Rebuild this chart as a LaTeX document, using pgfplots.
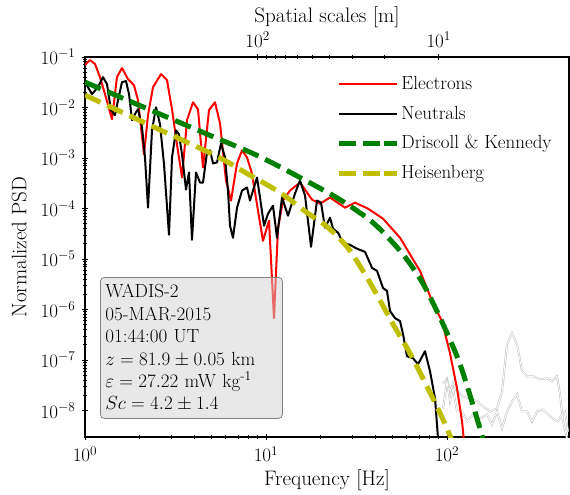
\RequirePackage{fix-cm}
\documentclass[border=0pt]{standalone}
\usepackage{pgfplots}
\pgfplotsset{compat=1.18}
\definecolor{dkgreen}{rgb}{0,0.5,0}
\definecolor{heisy}{rgb}{0.75,0.75,0}
\begin{document}
\fontsize{19}{22}\selectfont
\begin{tikzpicture}[font=\fontsize{19}{22}\selectfont]
\begin{axis}[
  at={(0,0)}, anchor=south west,
  scale only axis, width=484pt, height=380pt,
  xmode=log, ymode=log,
  xmin=1, xmax=472, ymin=3e-9, ymax=1e-1,
  xtick={1,10,100},
  ytick={1e-8,1e-7,1e-6,1e-5,1e-4,1e-3,1e-2,1e-1},
  xtick pos=lower, ytick pos=left,
  tick align=center,
  tick label style={font=\fontsize{19}{22}\selectfont},
  major tick length=6pt, minor tick length=3.5pt,
  every tick/.style={black, line width=0.8pt},
  axis line style={line width=1.1pt},
  xlabel={Frequency [Hz]},
  ylabel={Normalized PSD},
  xlabel style={font=\fontsize{21}{25}\selectfont, at={(axis description cs:0.5,-0.113)}, anchor=center},
  ylabel style={font=\fontsize{21}{25}\selectfont, at={(axis description cs:-0.136,0.5)}, anchor=center},
  legend cell align=left,
  legend style={draw=none, fill=none, at={(0.975,0.96)}, anchor=north east,
    font=\fontsize{19}{22}\selectfont, row sep=9.5pt},
  legend image code/.code={\draw[#1] (0pt,0pt) -- (45pt,0pt);
    \path (45pt,0pt) -- (58pt,0pt);},
]
% spectra above 100 Hz, noise floor
\addplot[forget plot, gray!45, line width=0.6pt, double=white, double distance=0.8pt] coordinates {
(95.05,3.46e-8) (100,4.15e-8) (103.9,2.40e-8) (107.9,3.46e-8) (113.6,2.40e-8)
(118.0,2.09e-8) (122.6,1.91e-8) (134.0,1.74e-8) (146.5,1.52e-8) (158.1,1.21e-8)
(172.8,9.60e-9) (188.9,1.10e-8) (201.3,2.40e-8) (214.6,2.06e-7) (228.7,3.41e-7)
(243.7,2.06e-7) (259.7,5.99e-8) (276.7,4.76e-8) (298.6,4.76e-8) (326.5,4.15e-8)
(356.9,4.35e-8) (380.3,3.79e-8) (405.2,4.76e-8) (421.0,2.09e-8) (437.4,6.07e-9)
(460.2,2.79e-9)
};
\addplot[forget plot, gray!45, line width=0.6pt, double=white, double distance=0.8pt] coordinates {
(95.05,1.10e-8) (100,3.79e-8) (103.9,1.52e-8) (107.9,2.75e-8) (113.6,9.60e-9)
(121.1,9.60e-9) (129.0,6.07e-9) (139.2,8.36e-9) (152.2,6.97e-9) (166.3,8.36e-9)
(177.3,5.30e-9) (188.9,9.60e-9) (201.3,4.41e-9) (214.6,9.60e-9) (228.7,1.52e-8)
(243.7,2.09e-8) (259.7,9.60e-9) (276.7,9.60e-9) (294.8,6.07e-9) (314.3,9.60e-9)
(339.2,1.05e-8) (361.4,8.36e-9) (385.1,6.97e-9) (410.5,6.07e-9) (431.9,8.36e-9)
(448.7,9.60e-9) (466.2,3.84e-9)
};
% electrons
\addplot[red, line width=2pt, line join=round] coordinates {
(1.000,6.93e-2) (1.066,8.71e-2) (1.136,7.26e-2) (1.210,4.00e-2) (1.290,1.84e-2)
(1.410,5.85e-3) (1.502,4.00e-2) (1.601,6.04e-2) (1.728,3.65e-2) (1.865,2.77e-2)
(1.963,1.40e-2) (2.118,1.18e-3) (2.229,7.03e-3) (2.375,2.53e-2) (2.630,4.59e-2)
(2.838,3.49e-2) (3.025,9.25e-3) (3.222,1.86e-3) (3.436,4.11e-4) (3.661,5.60e-3)
(3.952,1.27e-2) (4.210,9.25e-3) (4.487,6.50e-4) (4.842,8.83e-3) (5.224,1.27e-2)
(5.570,4.88e-3) (6.012,3.59e-4) (6.407,1.44e-4) (6.917,7.81e-4) (7.371,1.42e-3)
(7.853,1.03e-3) (8.369,4.94e-4) (9.032,9.08e-5) (9.625,2.30e-5) (10.39,5.74e-5)
(11.07,6.78e-7) (11.65,4.17e-5) (12.42,1.44e-4) (13.57,2.27e-4) (15.41,3.27e-4)
(17.96,1.50e-4) (19.88,1.25e-4) (22.58,1.65e-4) (27.33,1.04e-4) (31.02,1.31e-4)
(36.61,9.95e-5) (44.31,6.30e-5) (55.01,2.64e-5) (70.93,5.82e-6) (82.63,1.48e-6)
(93.84,5.91e-7) (103.9,1.36e-7) (113.6,2.75e-8) (121.1,6.07e-9) (124.2,2.43e-9)
};
\addlegendentry{Electrons}
% neutrals
\addplot[black, line width=2pt, line join=round] coordinates {
(1.000,3.18e-2) (1.093,1.84e-2) (1.180,2.53e-2) (1.257,4.00e-2) (1.323,2.90e-2)
(1.392,8.83e-3) (1.465,7.03e-3) (1.522,1.40e-2) (1.601,3.18e-2) (1.685,3.33e-2)
(1.751,1.84e-2) (1.818,5.60e-3) (1.913,8.07e-3) (1.963,9.25e-3) (2.065,4.06e-3)
(2.145,1.03e-3) (2.229,1.04e-4) (2.345,3.54e-3) (2.468,1.01e-2) (2.597,4.66e-3)
(2.733,7.46e-4) (2.911,3.03e-5) (3.025,1.03e-3) (3.184,3.54e-3) (3.306,2.94e-3)
(3.436,1.18e-3) (3.614,2.38e-4) (3.755,5.18e-4) (3.901,2.41e-5) (4.104,5.18e-4)
(4.319,3.27e-4) (4.487,3.27e-4) (4.721,1.29e-3) (4.905,1.42e-3) (5.096,7.81e-4)
(5.362,8.18e-4) (5.642,1.95e-3) (5.936,1.03e-3) (6.166,2.27e-4) (6.325,4.57e-5)
(6.571,2.64e-5) (6.917,1.04e-4) (7.371,2.27e-4) (7.853,2.61e-4) (8.157,1.44e-4)
(8.477,2.27e-4) (8.919,4.11e-4) (9.267,1.65e-4) (9.750,4.57e-5) (10.26,7.92e-5)
(10.93,1.14e-4) (11.50,2.64e-5) (12.26,1.65e-4) (13.23,7.22e-5) (14.46,1.98e-4)
(15.41,3.59e-4) (16.43,1.80e-4) (17.73,1.75e-5) (19.13,1.44e-4) (20.13,1.31e-4)
(21.18,4.17e-5) (22.58,6.59e-5) (23.46,3.98e-5) (24.99,3.32e-5) (26.63,2.10e-5)
(29.12,1.91e-5) (31.84,1.60e-5) (35.24,1.39e-5) (38.51,6.68e-6) (41.06,5.82e-6)
(44.31,2.67e-6) (46.62,2.33e-6) (48.43,9.33e-7) (51.61,6.78e-7) (55.01,5.91e-7)
(57.15,3.26e-7) (60.12,1.19e-7) (64.89,1.09e-7) (69.16,8.26e-8) (75.60,1.50e-7)
(80.56,5.99e-8) (85.87,1.74e-8) (89.22,2.79e-9)
};
\addlegendentry{Neutrals}
% models
\addplot[dkgreen, line width=5pt, dash pattern=on 17pt off 7.5pt, smooth] coordinates {
(1.000,3.18e-2) (2.286,9.00e-3) (4.905,2.81e-3) (8.919,1.13e-3) (15.41,4.11e-4)
(25.63,1.50e-4) (39.01,5.25e-5) (55.01,1.46e-5) (68.3,5.08e-6) (77.52,2.33e-6)
(95.05,5.15e-7) (118.0,8.26e-8) (146.5,6.97e-9) (162.2,1.93e-9)
};
\addlegendentry{Driscoll \& Kennedy}
\addplot[heisy, line width=5pt, dash pattern=on 17pt off 7.5pt, smooth] coordinates {
(1.000,1.76e-2) (2.286,4.45e-3) (5.226,1.13e-3) (7.853,4.94e-4) (11.95,2.07e-4)
(16.85,8.28e-5) (21.45,4.57e-5) (28.03,1.75e-5) (34.35,5.82e-6) (41.06,1.94e-6)
(50.30,5.15e-7) (62.47,1.36e-7) (77.52,3.01e-8) (95.05,6.65e-9) (110.7,1.85e-9)
};
\addlegendentry{Heisenberg}
\node[anchor=north west, draw=gray, line width=0.8pt, fill=gray!35, fill opacity=0.5,
  text opacity=1, rounded corners=4pt, align=left, text width=172pt,
  inner xsep=5pt, inner ysep=7pt,
  font=\fontsize{19}{22.4}\selectfont]
  at (rel axis cs:0.031,0.421)
  {WADIS-2\\05-MAR-2015\\01:44:00 UT\\$z = 81.9 \pm 0.05$ km\\
   $\varepsilon = 27.22$ mW kg\textsuperscript{-1}\\$Sc = 4.2 \pm 1.4$};
\end{axis}
% top axis: spatial scales
\begin{axis}[
  at={(0,0)}, anchor=south west,
  scale only axis, width=484pt, height=380pt,
  xmode=log, x dir=reverse,
  xmin=1.907, xmax=900, ymin=0, ymax=1,
  axis x line*=top, axis y line=none,
  xtick={10,100},
  tick align=center,
  tick label style={font=\fontsize{19}{22}\selectfont},
  major tick length=6pt, minor tick length=3.5pt,
  every tick/.style={black, line width=0.8pt},
  axis line style={line width=1.1pt},
  xlabel={Spatial scales [m]},
  xlabel style={font=\fontsize{21}{25}\selectfont, at={(axis description cs:0.5,1.105)}, anchor=center},
]
\end{axis}
\pgfresetboundingbox
\useasboundingbox (-85pt,-58pt) rectangle (485pt,437pt);
\end{tikzpicture}
\end{document}
